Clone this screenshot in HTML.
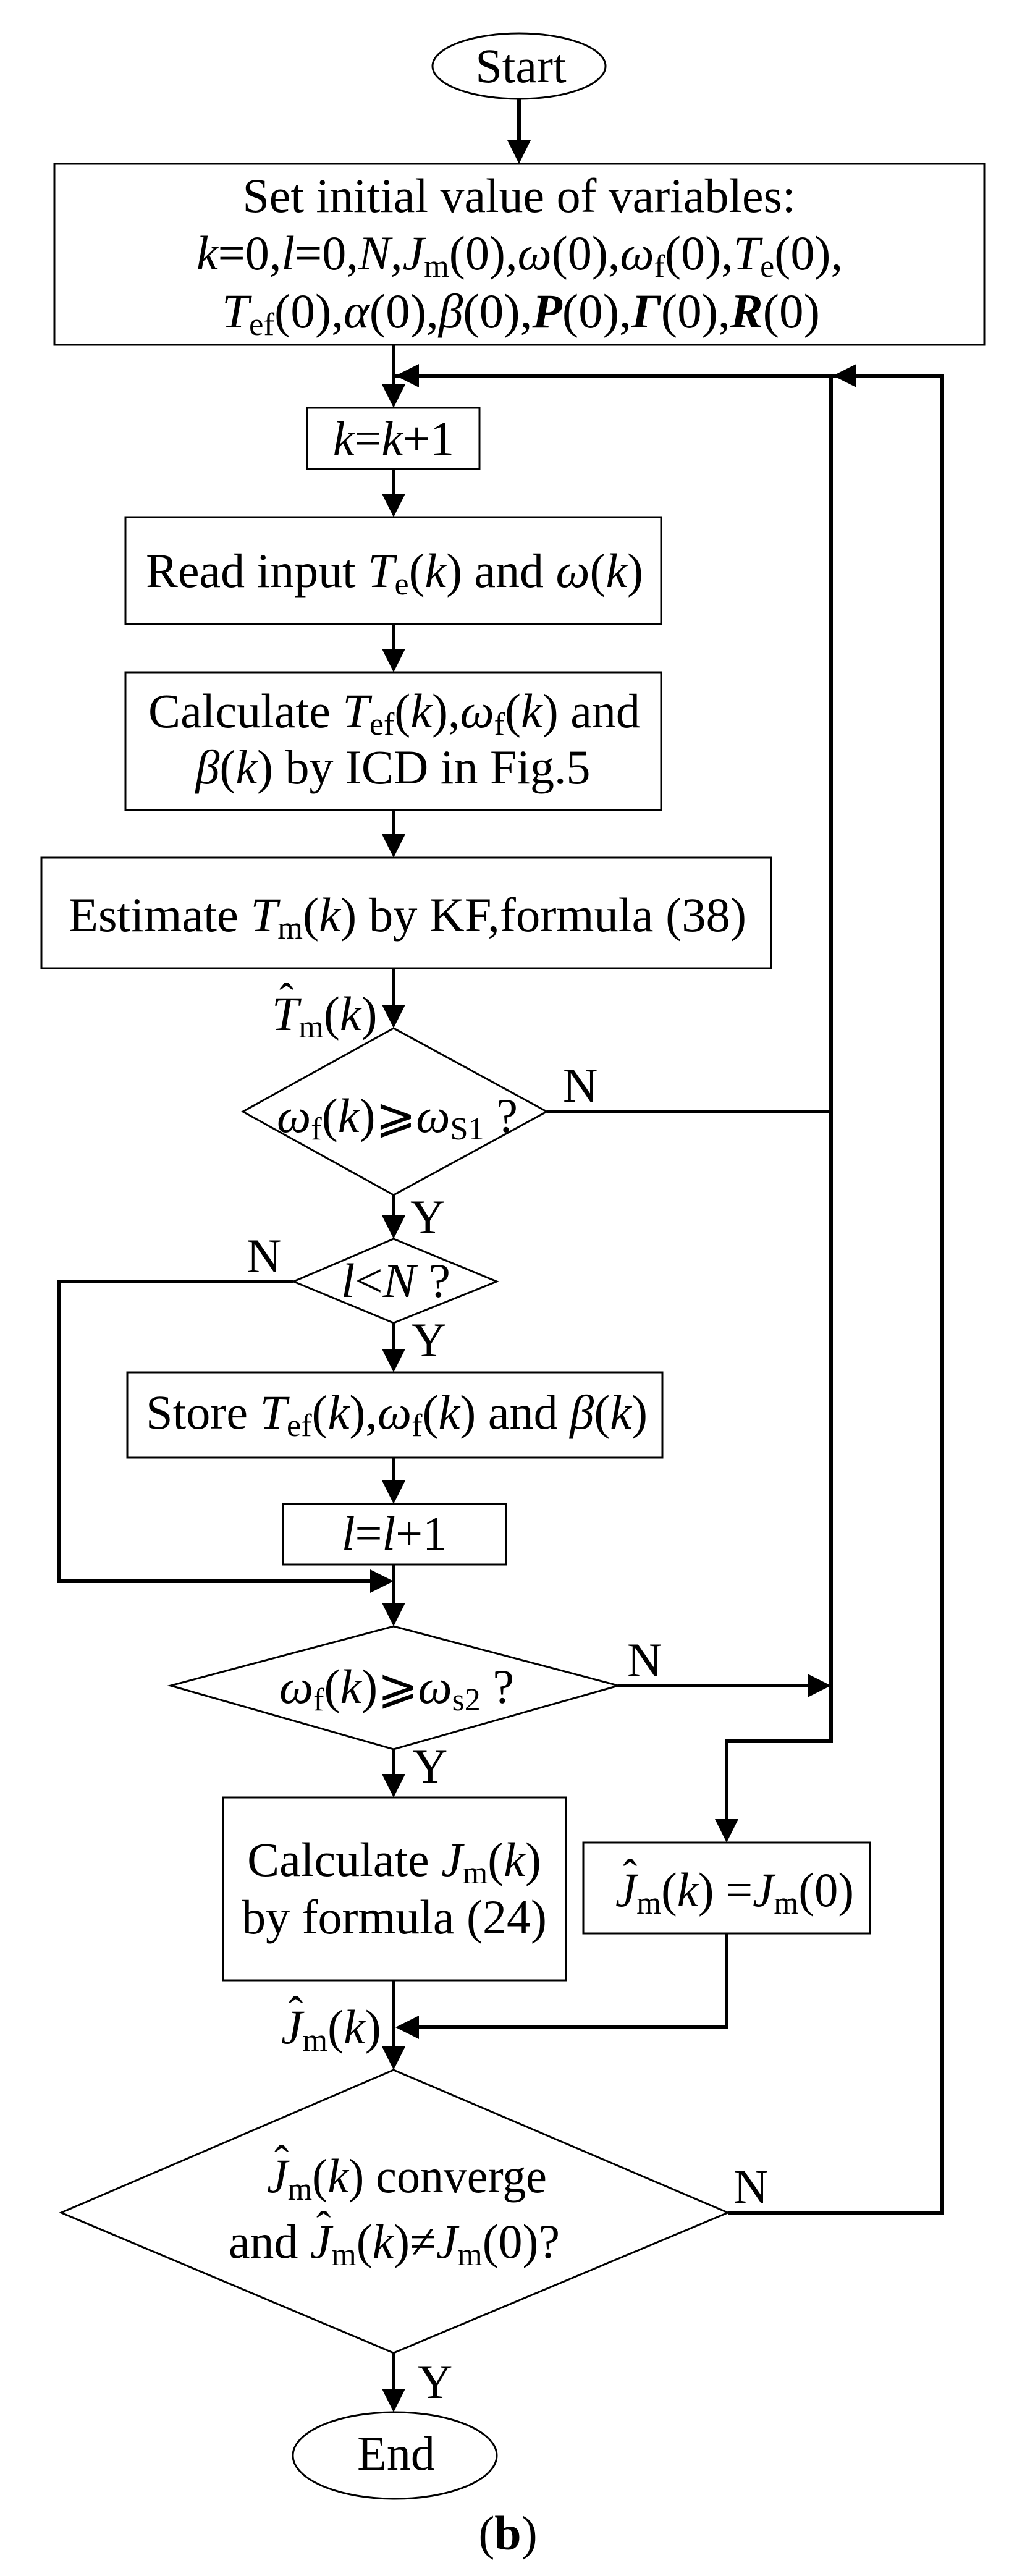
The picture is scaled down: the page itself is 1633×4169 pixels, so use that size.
<!DOCTYPE html>
<html><head><meta charset="utf-8">
<style>
html,body{margin:0;padding:0;background:#fff;}
svg{display:block;}
text{font-family:"Liberation Serif","DejaVu Serif",serif;font-size:78px;fill:#000;}
.i{font-style:italic;}
.b{font-weight:bold;}
.s{font-size:52px;font-style:normal;}
.h{font-size:70px;}
</style></head>
<body>
<svg width="1633" height="4169" viewBox="0 0 1633 4169" xmlns="http://www.w3.org/2000/svg">
<g fill="none" stroke="#000" stroke-width="3">
<ellipse cx="840" cy="107" rx="140" ry="53"/>
<rect x="88" y="265" width="1505" height="293"/>
<rect x="497" y="660" width="279" height="99"/>
<rect x="203" y="837" width="867" height="173"/>
<rect x="203" y="1088" width="867" height="223"/>
<rect x="67" y="1388" width="1181" height="179"/>
<polygon points="637,1664 885,1799 637,1934 393,1799"/>
<polygon points="637,2005 804,2074 637,2141 475,2074"/>
<rect x="206" y="2221" width="866" height="138"/>
<rect x="458" y="2434" width="361" height="98"/>
<polygon points="637,2632 1001,2728 637,2831 276,2728"/>
<rect x="361" y="2909" width="555" height="296"/>
<rect x="944" y="2982" width="464" height="147"/>
<polygon points="637,3350 1178,3581 637,3808 99,3581"/>
<ellipse cx="639" cy="3974" rx="165" ry="70"/>
</g>
<g fill="none" stroke="#000" stroke-width="6">
<line x1="840" y1="160" x2="840" y2="235"/>
<line x1="637" y1="558" x2="637" y2="630"/>
<polyline points="640,608 1525,608 1525,3581 1178,3581"/>
<polyline points="1345,608 1345,2818 1176,2818 1176,2952"/>
<line x1="637" y1="759" x2="637" y2="807"/>
<line x1="637" y1="1010" x2="637" y2="1058"/>
<line x1="637" y1="1311" x2="637" y2="1358"/>
<line x1="637" y1="1567" x2="637" y2="1634"/>
<line x1="885" y1="1799" x2="1345" y2="1799"/>
<line x1="637" y1="1934" x2="637" y2="1975"/>
<line x1="637" y1="2141" x2="637" y2="2191"/>
<polyline points="475,2074 96,2074 96,2559 607,2559"/>
<line x1="637" y1="2359" x2="637" y2="2404"/>
<line x1="637" y1="2532" x2="637" y2="2602"/>
<line x1="1001" y1="2728" x2="1315" y2="2728"/>
<line x1="637" y1="2831" x2="637" y2="2879"/>
<line x1="637" y1="3205" x2="637" y2="3320"/>
<polyline points="1176,3129 1176,3281 670,3281"/>
<line x1="637" y1="3808" x2="637" y2="3874"/>
</g>
<g fill="#000">
<polygon points="821,227 859,227 840,265"/>
<polygon points="618,622 656,622 637,660"/>
<polygon points="640,608 678,589 678,627"/>
<polygon points="1348,608 1386,589 1386,627"/>
<polygon points="618,799 656,799 637,837"/>
<polygon points="618,1050 656,1050 637,1088"/>
<polygon points="618,1350 656,1350 637,1388"/>
<polygon points="618,1626 656,1626 637,1664"/>
<polygon points="618,1967 656,1967 637,2005"/>
<polygon points="618,2183 656,2183 637,2221"/>
<polygon points="637,2559 599,2540 599,2578"/>
<polygon points="618,2396 656,2396 637,2434"/>
<polygon points="618,2594 656,2594 637,2632"/>
<polygon points="1345,2728 1307,2709 1307,2747"/>
<polygon points="618,2871 656,2871 637,2909"/>
<polygon points="1157,2944 1195,2944 1176,2982"/>
<polygon points="640,3281 678,3262 678,3300"/>
<polygon points="618,3312 656,3312 637,3350"/>
<polygon points="618,3866 656,3866 637,3904"/>
</g>

<text x="843" y="133" text-anchor="middle">Start</text>
<text x="840" y="343" text-anchor="middle" textLength="895" lengthAdjust="spacingAndGlyphs">Set initial value of variables:</text>
<text x="318" y="436" textLength="1046" lengthAdjust="spacingAndGlyphs"><tspan class="i">k</tspan>=0,<tspan class="i">l</tspan>=0,<tspan class="i">N</tspan>,<tspan class="i">J</tspan><tspan class="s" dy="12">m</tspan><tspan dy="-12">(0),</tspan><tspan class="i">ω</tspan>(0),<tspan class="i">ω</tspan><tspan class="s" dy="12">f</tspan><tspan dy="-12">(0),</tspan><tspan class="i">T</tspan><tspan class="s" dy="12">e</tspan><tspan dy="-12">(0),</tspan></text>
<text x="359" y="530" textLength="968" lengthAdjust="spacingAndGlyphs"><tspan class="i">T</tspan><tspan class="s" dy="12">ef</tspan><tspan dy="-12">(0),</tspan><tspan class="i">α</tspan>(0),<tspan class="i">β</tspan>(0),<tspan class="i b">P</tspan>(0),<tspan class="i b">Γ</tspan>(0),<tspan class="i b">R</tspan>(0)</text>

<text x="637" y="736" text-anchor="middle"><tspan class="i">k</tspan>=<tspan class="i">k</tspan>+1</text>
<text x="236" y="950" textLength="805" lengthAdjust="spacingAndGlyphs">Read input <tspan class="i">T</tspan><tspan class="s" dy="12">e</tspan><tspan dy="-12">(</tspan><tspan class="i">k</tspan>) and <tspan class="i">ω</tspan>(<tspan class="i">k</tspan>)</text>
<text x="240" y="1177" textLength="796" lengthAdjust="spacingAndGlyphs">Calculate <tspan class="i">T</tspan><tspan class="s" dy="12">ef</tspan><tspan dy="-12">(</tspan><tspan class="i">k</tspan>),<tspan class="i">ω</tspan><tspan class="s" dy="12">f</tspan><tspan dy="-12">(</tspan><tspan class="i">k</tspan>) and</text>
<text x="636" y="1268" text-anchor="middle"><tspan class="i">β</tspan>(<tspan class="i">k</tspan>) by ICD in Fig.5</text>
<text x="111" y="1507" textLength="1097" lengthAdjust="spacingAndGlyphs">Estimate <tspan class="i">T</tspan><tspan class="s" dy="12">m</tspan><tspan dy="-12">(</tspan><tspan class="i">k</tspan>) by KF,formula (38)</text>

<text x="440" y="1667"><tspan class="i">T</tspan><tspan class="s" dy="12">m</tspan><tspan dy="-12">(</tspan><tspan class="i">k</tspan>)</text>
<text x="452" y="1640" class="h">ˆ</text>
<text x="448" y="1832" textLength="390" lengthAdjust="spacingAndGlyphs"><tspan class="i">ω</tspan><tspan class="s" dy="12">f</tspan><tspan dy="-12">(</tspan><tspan class="i">k</tspan>)⩾<tspan class="i">ω</tspan><tspan class="s" dy="12">S1</tspan><tspan dy="-12"> ?</tspan></text>
<text x="911" y="1783">N</text>
<text x="664" y="1996">Y</text>
<text x="552" y="2099" textLength="177" lengthAdjust="spacingAndGlyphs"><tspan class="i">l</tspan>&lt;<tspan class="i">N</tspan> ?</text>
<text x="399" y="2059">N</text>
<text x="666" y="2195">Y</text>
<text x="236" y="2312" textLength="812" lengthAdjust="spacingAndGlyphs">Store <tspan class="i">T</tspan><tspan class="s" dy="12">ef</tspan><tspan dy="-12">(</tspan><tspan class="i">k</tspan>),<tspan class="i">ω</tspan><tspan class="s" dy="12">f</tspan><tspan dy="-12">(</tspan><tspan class="i">k</tspan>) and <tspan class="i">β</tspan>(<tspan class="i">k</tspan>)</text>
<text x="638" y="2508" text-anchor="middle"><tspan class="i">l</tspan>=<tspan class="i">l</tspan>+1</text>
<text x="452" y="2756" textLength="380" lengthAdjust="spacingAndGlyphs"><tspan class="i">ω</tspan><tspan class="s" dy="12">f</tspan><tspan dy="-12">(</tspan><tspan class="i">k</tspan>)⩾<tspan class="i">ω</tspan><tspan class="s" dy="12">s2</tspan><tspan dy="-12"> ?</tspan></text>
<text x="1015" y="2713">N</text>
<text x="668" y="2885">Y</text>
<text x="638" y="3036" text-anchor="middle">Calculate <tspan class="i">J</tspan><tspan class="s" dy="12">m</tspan><tspan dy="-12">(</tspan><tspan class="i">k</tspan>)</text>
<text x="638" y="3129" text-anchor="middle">by formula (24)</text>
<text x="996" y="3085" textLength="386" lengthAdjust="spacingAndGlyphs"><tspan class="i">J</tspan><tspan class="s" dy="12">m</tspan><tspan dy="-12">(</tspan><tspan class="i">k</tspan>) =<tspan class="i">J</tspan><tspan class="s" dy="12">m</tspan><tspan dy="-12">(0)</tspan></text>
<text x="1008" y="3058" class="h">ˆ</text>
<text x="455" y="3307"><tspan class="i">J</tspan><tspan class="s" dy="12">m</tspan><tspan dy="-12">(</tspan><tspan class="i">k</tspan>)</text>
<text x="467" y="3280" class="h">ˆ</text>
<text x="432" y="3548" textLength="453" lengthAdjust="spacingAndGlyphs"><tspan class="i">J</tspan><tspan class="s" dy="12">m</tspan><tspan dy="-12">(</tspan><tspan class="i">k</tspan>) converge</text>
<text x="444" y="3521" class="h">ˆ</text>
<text x="370" y="3654" textLength="536" lengthAdjust="spacingAndGlyphs">and <tspan class="i">J</tspan><tspan class="s" dy="12">m</tspan><tspan dy="-12">(</tspan><tspan class="i">k</tspan>)≠<tspan class="i">J</tspan><tspan class="s" dy="12">m</tspan><tspan dy="-12">(0)?</tspan></text>
<text x="512" y="3627" class="h">ˆ</text>
<text x="1187" y="3565">N</text>
<text x="676" y="3881">Y</text>
<text x="641" y="3997" text-anchor="middle">End</text>
<text x="822" y="4126" text-anchor="middle">(<tspan class="b">b</tspan>)</text>
</svg>
</body></html>
